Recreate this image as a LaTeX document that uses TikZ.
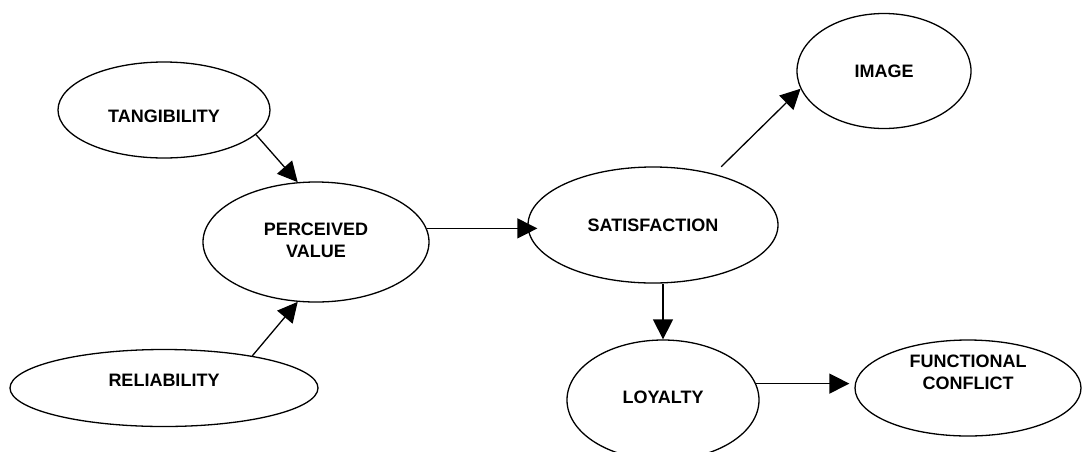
\documentclass[tikz,border=0pt]{standalone}
\usepackage{fontspec}
\setmainfont{Liberation Sans}
\usetikzlibrary{arrows.meta,shapes.geometric}
\tikzset{
  oval/.style={draw, ellipse, line width=1.3pt, inner sep=0pt, align=center,
    font=\bfseries\fontsize{18}{22}\selectfont},
  conn/.style={line width=1.3pt, -{Triangle[length=20pt,width=20pt]}}
}
\begin{document}
\begin{tikzpicture}[x=1pt,y=-1pt]
\useasboundingbox (0,0) rectangle (1082,451);
\node[oval, minimum width=212pt, minimum height=96pt, text height=25pt] (tang) at (164,110) {TANGIBILITY};
\node[oval, minimum width=226pt, minimum height=120pt, text height=31pt] (pv) at (316,242) {PERCEIVED\\VALUE};
\node[oval, minimum width=308pt, minimum height=77pt, text depth=16pt] (reli) at (164,388) {RELIABILITY};
\node[oval, minimum width=250pt, minimum height=116pt] (sat) at (653,225) {SATISFACTION};
\node[oval, minimum width=174pt, minimum height=115pt] (img) at (884,71) {IMAGE};
\node[oval, minimum width=192pt, minimum height=120pt, text depth=6pt] (loy) at (663,400) {LOYALTY};
\node[oval, minimum width=226pt, minimum height=96pt, text depth=32pt] (fc) at (968,388) {FUNCTIONAL\\CONFLICT};
\draw[conn] (tang.-15) -- (pv.107);
\draw[conn] (reli.20) -- (pv.-107);
\draw[conn, shorten >=-10pt] (pv.7) -- (pv.7 -| sat.west);
\draw[conn] (loy.north |- sat.south) -- (loy.north);
\draw[conn, shorten <=10pt] (sat.40) -- (img.192);
\draw[conn, shorten >=5pt] (loy.10) -- (loy.10 -| fc.west);
\end{tikzpicture}
\end{document}
